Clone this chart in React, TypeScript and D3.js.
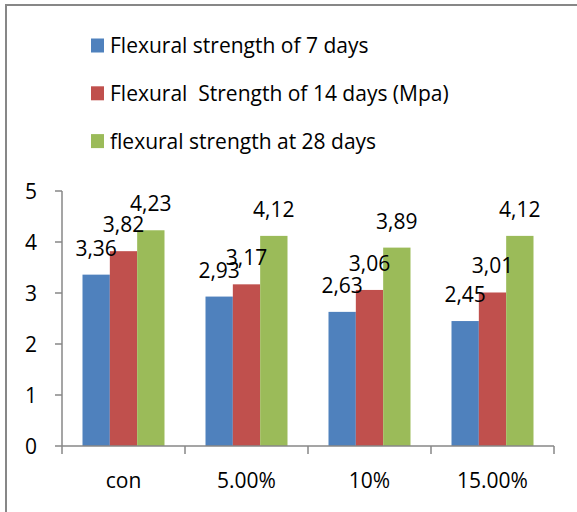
import React from "react";
import * as d3 from "d3";

const categories = ["con", "5.00%", "10%", "15.00%"];
const seriesNames = [
  "Flexural strength of 7 days",
  "Flexural  Strength of 14 days (Mpa)",
  "flexural strength at 28 days",
];
const day7 = [3.36, 2.93, 2.63, 2.45];
const day14 = [3.82, 3.17, 3.06, 3.01];
const day28 = [4.23, 4.12, 3.89, 4.12];
const yTicks = [0, 1, 2, 3, 4, 5];
const colors = ["#4F81BD", "#C0504D", "#9BBB59"];

const W = 577;
const H = 512;
const FONT = "'Open Sans', 'Noto Sans', sans-serif";

export default function App() {
  const series = [day7, day14, day28];
  const plotLeft = 62;
  const plotRight = 554;
  const y0 = 446;
  const yTop = 191;

  const x = d3.scaleBand<string>().domain(categories).range([plotLeft, plotRight]);
  const inner = d3
    .scaleBand<number>()
    .domain([0, 1, 2])
    .range([0, x.bandwidth()])
    .paddingOuter(0.75)
    .paddingInner(0);
  const y = d3.scaleLinear().domain([0, 5]).range([y0, yTop]);

  const fmt = (v: number) => v.toFixed(2).replace(".", ",");

  return (
    <svg
      width={W}
      height={H}
      style={{ position: "absolute", left: 0, top: 0, background: "#fff" }}
      fontFamily={FONT}
    >
      <rect x={6} y={5} width={W + 10} height={H + 10} fill="#fff" stroke="#878787" strokeWidth={2} />

      {/* legend */}
      {seriesNames.map((name, i) => {
        const cy = 45.5 + i * 47.8;
        return (
          <g key={name}>
            <rect x={91} y={cy - 7} width={13} height={14} fill={colors[i]} />
            <text x={110} y={cy + 7.5} fontSize={21} fill="#000" style={{ whiteSpace: "pre" }}>
              {name}
            </text>
          </g>
        );
      })}

      {/* bars */}
      {series.map((vals, si) =>
        vals.map((v, ci) => (
          <rect
            key={`${si}-${ci}`}
            x={(x(categories[ci]) as number) + (inner(si) as number)}
            y={y(v)}
            width={inner.bandwidth()}
            height={y0 - y(v)}
            fill={colors[si]}
          />
        ))
      )}

      {/* data labels */}
      {series.map((vals, si) =>
        vals.map((v, ci) => (
          <text
            key={`l-${si}-${ci}`}
            x={(x(categories[ci]) as number) + (inner(si) as number) + inner.bandwidth() / 2}
            y={y(v) - 19}
            textAnchor="middle"
            fontSize={21}
            fill="#000"
          >
            {fmt(v)}
          </text>
        ))
      )}

      {/* y axis */}
      <line x1={plotLeft} x2={plotLeft} y1={yTop} y2={y0} stroke="#878787" strokeWidth={1.5} />
      {yTicks.map((t) => (
        <g key={t}>
          <line x1={plotLeft - 7} x2={plotLeft} y1={y(t)} y2={y(t)} stroke="#878787" strokeWidth={1.5} />
          <text x={37} y={y(t) + 7.5} textAnchor="end" fontSize={21} fill="#000">
            {t}
          </text>
        </g>
      ))}

      {/* x axis */}
      <line x1={plotLeft} x2={plotRight} y1={y0} y2={y0} stroke="#878787" strokeWidth={1.5} />
      {[...categories.map((c) => x(c) as number), plotRight].map((px, i) => (
        <line key={i} x1={px} x2={px} y1={y0} y2={y0 + 8} stroke="#878787" strokeWidth={1.5} />
      ))}
      {categories.map((c) => (
        <text
          key={c}
          x={(x(c) as number) + x.bandwidth() / 2}
          y={488}
          textAnchor="middle"
          fontSize={21}
          fill="#000"
        >
          {c}
        </text>
      ))}
    </svg>
  );
}
